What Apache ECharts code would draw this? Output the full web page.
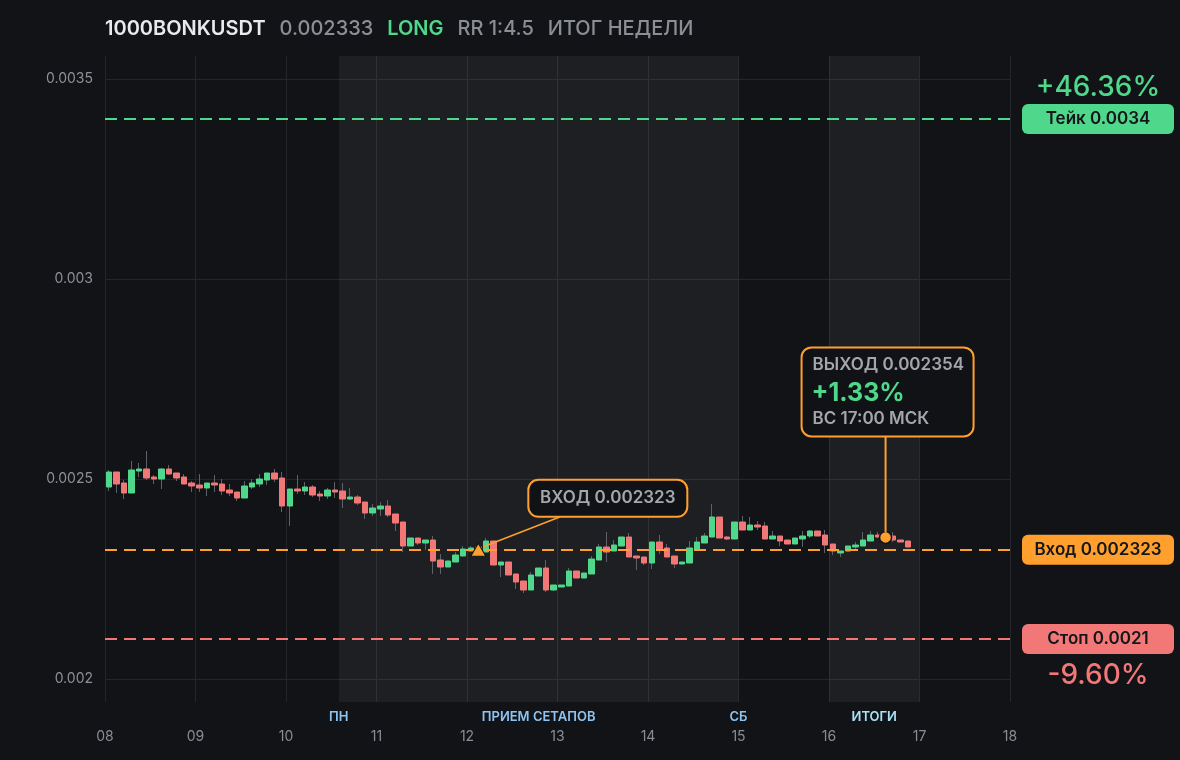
<!DOCTYPE html>
<html>
<head>
<meta charset="utf-8">
<script src="https://cdn.jsdelivr.net/npm/echarts@6/dist/echarts.min.js"></script>
<style>
html,body{margin:0;padding:0;background:#121317;}
#c{width:1180px;height:760px;}
</style>
</head>
<body>
<div id="c"></div>
<script>
// ---- data (2h candles starting 08 00:00) ----
const startDay = 8;
const candleStepDays = 2 / 24;
const opens = [0.00248,0.0025175,0.00249,0.002465,0.00252,0.002525,0.002505,0.0025,0.002525,0.002515,
0.002505,0.00249,0.002485,0.0024775,0.00249,0.0024875,0.0024725,0.0024675,0.0024525,0.00248,
0.0024875,0.0024975,0.002515,0.0025025,0.0024325,0.002475,0.00247,0.00248,0.0024625,0.0024575,
0.0024725,0.00247,0.00245,0.002455,0.0024425,0.002415,0.002425,0.0024325,0.0024125,0.0023925,
0.0023325,0.0023525,0.00234,0.0023475,0.0022975,0.00228,0.0022925,0.0023075,0.00232,0.0023225,
0.0023175,0.002345,0.002285,0.0022925,0.0022625,0.002245,0.0022225,0.0022575,0.0022775,0.0022225,
0.00223,0.0022325,0.00227,0.0022525,0.0022625,0.0022975,0.00233,0.00232,0.0023325,0.002355,
0.0023075,0.002305,0.00229,0.0023425,0.0023275,0.0023075,0.0022875,0.00229,0.002325,0.00234,
0.002355,0.002405,0.002355,0.00235,0.0023925,0.0023725,0.002385,0.0023825,0.00235,0.0023575,
0.0023475,0.0023375,0.00235,0.0023575,0.00237,0.00236,0.0023375,0.002315,0.00232,0.00233,
0.0023325,0.002345,0.00236,0.00236,0.0023575,0.0023475,0.002345];
const closes = [0.0025175,0.0024875,0.002465,0.0025225,0.002525,0.0025025,0.0025,0.002525,0.0025125,0.0025025,
0.0024875,0.0024825,0.0024775,0.00249,0.002485,0.00247,0.002465,0.0024525,0.0024825,0.00249,
0.0025,0.002515,0.0025,0.0024325,0.002475,0.00247,0.00248,0.00246,0.0024575,0.0024725,
0.0024675,0.00245,0.002455,0.00244,0.002415,0.0024275,0.0024325,0.00241,0.00239,0.0023325,
0.0023525,0.00234,0.0023475,0.002295,0.00228,0.002295,0.00231,0.002325,0.0023275,0.00233,
0.002345,0.002285,0.0022925,0.00226,0.0022425,0.0022225,0.00226,0.0022775,0.0022225,0.002235,
0.002235,0.00227,0.0022525,0.002265,0.0023,0.00233,0.0023175,0.002335,0.002355,0.002305,
0.0023025,0.00229,0.0023425,0.002325,0.002305,0.0022875,0.0022925,0.0023275,0.0023425,0.0023575,
0.002405,0.0023525,0.00235,0.0023925,0.0023725,0.002385,0.00238,0.00235,0.0023575,0.002345,
0.0023375,0.0023525,0.0023575,0.00237,0.0023575,0.002335,0.00232,0.00232,0.0023325,0.002335,
0.0023475,0.00236,0.002355,0.002354,0.0023475,0.0023425,0.00233];
const lows = [0.00247,0.002465,0.00245,0.002465,0.002505,0.0024975,0.0024875,0.002475,0.00251,0.002495,
0.0024875,0.0024675,0.0024675,0.0024575,0.0024675,0.00246,0.0024575,0.002445,0.0024525,0.002475,
0.00248,0.002485,0.0024925,0.0024175,0.0023825,0.0024625,0.00246,0.002455,0.002445,0.00245,
0.0024525,0.0024275,0.0024475,0.002435,0.0024,0.0024075,0.0024075,0.002405,0.00237,0.0023175,
0.0023325,0.002335,0.0023225,0.0022625,0.0022625,0.00228,0.0022925,0.0023075,0.00232,0.0023175,
0.0023175,0.002285,0.002255,0.00226,0.002225,0.002215,0.0022225,0.0022575,0.0022175,0.00222,
0.00223,0.0022325,0.0022525,0.0022525,0.0022625,0.0022975,0.0022925,0.00232,0.0023325,0.002305,
0.0022725,0.002285,0.002275,0.0023125,0.002305,0.0022775,0.0022875,0.00229,0.002325,0.00234,
0.002355,0.0023525,0.0023475,0.00235,0.0023725,0.0023725,0.0023725,0.00235,0.00235,0.0023325,
0.0023375,0.0023375,0.00233,0.0023525,0.0023575,0.002315,0.00231,0.002305,0.00232,0.002325,
0.0023325,0.002345,0.0023525,0.00235,0.0023425,0.0023425,0.00233];
const highs = [0.0025225,0.0025175,0.0024975,0.002545,0.00254,0.00257,0.00251,0.0025275,0.002535,0.002515,
0.0025125,0.002495,0.0025125,0.00249,0.00251,0.0025,0.0024875,0.0024675,0.002495,0.0025,
0.0025125,0.002515,0.002525,0.0025175,0.002475,0.00251,0.0024925,0.002485,0.00247,0.0024775,
0.0024925,0.00249,0.0024775,0.00246,0.0024425,0.0024375,0.0024425,0.0024475,0.0024125,0.0023925,
0.0023525,0.0023525,0.0023475,0.0023575,0.0023125,0.002295,0.0023175,0.0023325,0.0023325,0.002335,
0.0023525,0.002345,0.0022925,0.0022925,0.0022625,0.002245,0.0022675,0.0022775,0.0022975,0.002235,
0.002235,0.0022775,0.00227,0.002265,0.0023075,0.0023375,0.0023675,0.0023475,0.002355,0.002365,
0.0023075,0.002305,0.0023425,0.00236,0.0023375,0.0023075,0.0022925,0.002345,0.002355,0.002365,
0.0024375,0.002405,0.0023575,0.0023925,0.0024075,0.002405,0.002395,0.0023925,0.00237,0.0023575,
0.0023475,0.0023525,0.00237,0.0023725,0.00237,0.0023725,0.0023375,0.00232,0.0023325,0.0023425,
0.0023675,0.00237,0.0023675,0.002365,0.0023675,0.0023475,0.002345];

const yTicks = [0.002, 0.0025, 0.003, 0.0035];
const xDays = [8, 18];
const takePrice = 0.0034, entryPrice = 0.002323, stopPrice = 0.0021;
const entryTime = 12.125, exitTime = 16.625, exitPrice = 0.002354;
const takeLabel = 'Тейк 0.0034', entryLabel = 'Вход 0.002323', stopLabel = 'Стоп 0.0021';
const takePct = '+46.36%', stopPct = '-9.60%';
const bands = [[10 + 14/24, 15], [16, 17]];
const bandLabels = [
  {x: 10 + 14/24, text: 'ПН', color: '#8fc4f2'},
  {x: (10 + 14/24 + 15) / 2, text: 'ПРИЕМ СЕТАПОВ', color: '#8fc4f2'},
  {x: 15, text: 'СБ', color: '#8fc4f2'},
  {x: 16.5, text: 'ИТОГИ', color: '#a8e2f6'}
];
const titleParts = ['1000BONKUSDT', '0.002333', 'LONG', 'RR 1:4.5', 'ИТОГ НЕДЕЛИ'];
const entryBoxText = 'ВХОД 0.002323';
const exitBoxLines = ['ВЫХОД 0.002354', '+1.33%', 'ВС 17:00 МСК'];

// ---- build ----
const GREEN = '#4fd88c', RED = '#f27878', ORANGE = '#ffa02e';
const FONT = 'Inter, "Noto Sans", sans-serif';
const times = opens.map((_, i) => startDay + (i + 0.5) * candleStepDays);
const wickData = opens.map((o, i) => [times[i], o, closes[i], lows[i], highs[i]]);
const bodyData = opens.map((o, i) => [times[i], o, closes[i], Math.min(o, closes[i]), Math.max(o, closes[i])]);

const chart = echarts.init(document.getElementById('c'), null, {renderer: 'canvas'});
const option = {
  backgroundColor: '#121317',
  animation: false,
  title: {
    left: 105, top: 19, padding: 0,
    text: '{a|' + titleParts[0] + '}{b|' + titleParts[1] + '}{c|' + titleParts[2] + '}{b|' + titleParts[3] + '}{d|' + titleParts[4] + '}',
    textStyle: {
      rich: {
        a: {fontFamily: FONT, fontSize: 20, fontWeight: 600, color: '#e9eaee', padding: [0, 14, 0, 0]},
        b: {fontFamily: FONT, fontSize: 20, fontWeight: 500, color: '#8b8e95', padding: [0, 14, 0, 0]},
        c: {fontFamily: FONT, fontSize: 20, fontWeight: 600, color: GREEN, padding: [0, 14, 0, 0]},
        d: {fontFamily: FONT, fontSize: 20, fontWeight: 500, color: '#8b8e95'}
      }
    }
  },
  grid: {left: 105, right: 170, top: 56, bottom: 58},
  xAxis: {
    type: 'value', min: xDays[0], max: xDays[1], interval: 1,
    axisLine: {show: false}, axisTick: {show: false},
    axisLabel: {color: '#8a8d94', fontSize: 14, fontFamily: FONT, margin: 28,
      formatter: v => (v < 10 ? '0' : '') + v},
    splitLine: {show: true, lineStyle: {color: '#25262b', width: 1}}
  },
  yAxis: {
    type: 'value', min: 0.0019425, max: 0.0035575, scale: true,
    axisLine: {show: false},
    axisTick: {show: false, customValues: yTicks},
    axisLabel: {customValues: yTicks, color: '#8e9097', fontSize: 14, fontFamily: FONT, margin: 12,
      formatter: v => String(+v.toFixed(5))},
    splitLine: {show: true, lineStyle: {color: '#25262b', width: 1}}
  },
  series: [
    {
      type: 'line', data: [], silent: true,
      markArea: {
        silent: true,
        itemStyle: {color: 'rgba(255,255,255,0.05)'},
        data: bands.map(b => [{xAxis: b[0]}, {xAxis: b[1]}])
      }
    },
    {
      type: 'candlestick', data: wickData, encode: {x: 0, y: [1, 2, 3, 4]},
      barWidth: 1,
      itemStyle: {color: '#5f6168', color0: '#5f6168', borderColor: '#5f6168', borderColor0: '#5f6168', borderWidth: 1}
    },
    {
      type: 'candlestick', data: bodyData, encode: {x: 0, y: [1, 2, 3, 4]},
      barWidth: 6,
      itemStyle: {color: GREEN, color0: RED, borderColor: GREEN, borderColor0: RED, borderWidth: 1}
    },
    {
      type: 'line', data: [], silent: true, z: 4,
      markLine: {
        silent: true, symbol: 'none', label: {show: false}, precision: 8,
        data: [
          {yAxis: takePrice, lineStyle: {color: GREEN, type: [12, 7], width: 2}},
          {yAxis: entryPrice, lineStyle: {color: ORANGE, type: [12, 7], width: 2}},
          {yAxis: stopPrice, lineStyle: {color: RED, type: [12, 7], width: 2}}
        ]
      }
    },
    {
      type: 'scatter', data: [[entryTime, entryPrice]], symbol: 'triangle', symbolSize: [15, 13],
      itemStyle: {color: ORANGE, opacity: 1, borderColor: '#121317', borderWidth: 1}, z: 6
    },
    {
      type: 'scatter', data: [[exitTime, exitPrice]], symbol: 'circle', symbolSize: 12,
      itemStyle: {color: ORANGE, opacity: 1, borderColor: '#121317', borderWidth: 1.5}, z: 6
    }
  ]
};
chart.setOption(option);

function px(x, y) { return chart.convertToPixel({xAxisIndex: 0, yAxisIndex: 0}, [x, y]); }
const gRight = px(xDays[1], takePrice)[0];
const gBottom = px(xDays[0], 0.0019425)[1];
const g = [];

// right-side badges
function badge(price, text, bg) {
  const y = px(xDays[1], price)[1];
  g.push({type: 'rect', shape: {x: gRight + 12, y: y - 15, width: 152, height: 30, r: 6}, style: {fill: bg}, z: 10});
  g.push({type: 'text', x: gRight + 12 + 76, y: y, style: {text: text, fill: '#15161a', font: '600 17px ' + FONT, align: 'center', verticalAlign: 'middle'}, z: 11});
  return y;
}
const takeY = badge(takePrice, takeLabel, GREEN);
badge(entryPrice, entryLabel, ORANGE);
const stopY = badge(stopPrice, stopLabel, RED);
g.push({type: 'text', x: gRight + 88, y: takeY - 31, style: {text: takePct, fill: GREEN, font: '500 28px ' + FONT, align: 'center', verticalAlign: 'middle'}, z: 11});
g.push({type: 'text', x: gRight + 88, y: stopY + 37, style: {text: stopPct, fill: RED, font: '500 28px ' + FONT, align: 'center', verticalAlign: 'middle'}, z: 11});

// band labels under the plot
bandLabels.forEach(b => {
  const x = px(b.x, entryPrice)[0];
  g.push({type: 'text', x: x, y: gBottom + 15, style: {text: b.text, fill: b.color, font: '600 13px ' + FONT, align: 'center', verticalAlign: 'middle'}, z: 11});
});

// entry annotation
const ea = px(entryTime, entryPrice);
g.push({type: 'line', shape: {x1: ea[0] + 5, y1: ea[1] - 3, x2: ea[0] + 82, y2: ea[1] - 33}, style: {stroke: ORANGE, lineWidth: 1.5}, z: 9});
g.push({type: 'rect', shape: {x: ea[0] + 50, y: ea[1] - 70, width: 159, height: 37, r: 10}, style: {fill: '#111216', stroke: ORANGE, lineWidth: 2}, z: 10});
g.push({type: 'text', x: ea[0] + 50 + 79.5, y: ea[1] - 51.5, style: {text: entryBoxText, fill: '#a3a6ad', font: '600 17px ' + FONT, align: 'center', verticalAlign: 'middle'}, z: 11});

// exit annotation
const xa = px(exitTime, exitPrice);
const bx = xa[0] - 84, by = xa[1] - 190;
g.push({type: 'line', shape: {x1: xa[0], y1: xa[1] - 5, x2: xa[0], y2: by + 89}, style: {stroke: ORANGE, lineWidth: 2}, z: 9});
g.push({type: 'rect', shape: {x: bx, y: by, width: 172, height: 89, r: 10}, style: {fill: '#111216', stroke: ORANGE, lineWidth: 2}, z: 10});
g.push({type: 'text', x: bx + 11, y: by + 17, style: {text: exitBoxLines[0], fill: '#a3a6ad', font: '600 17px ' + FONT, align: 'left', verticalAlign: 'middle'}, z: 11});
g.push({type: 'text', x: bx + 10, y: by + 46, style: {text: exitBoxLines[1], fill: GREEN, font: '700 25px ' + FONT, align: 'left', verticalAlign: 'middle'}, z: 11});
g.push({type: 'text', x: bx + 11, y: by + 71, style: {text: exitBoxLines[2], fill: '#a3a6ad', font: '600 17px ' + FONT, align: 'left', verticalAlign: 'middle'}, z: 11});

chart.setOption({graphic: g});
</script>
</body>
</html>
